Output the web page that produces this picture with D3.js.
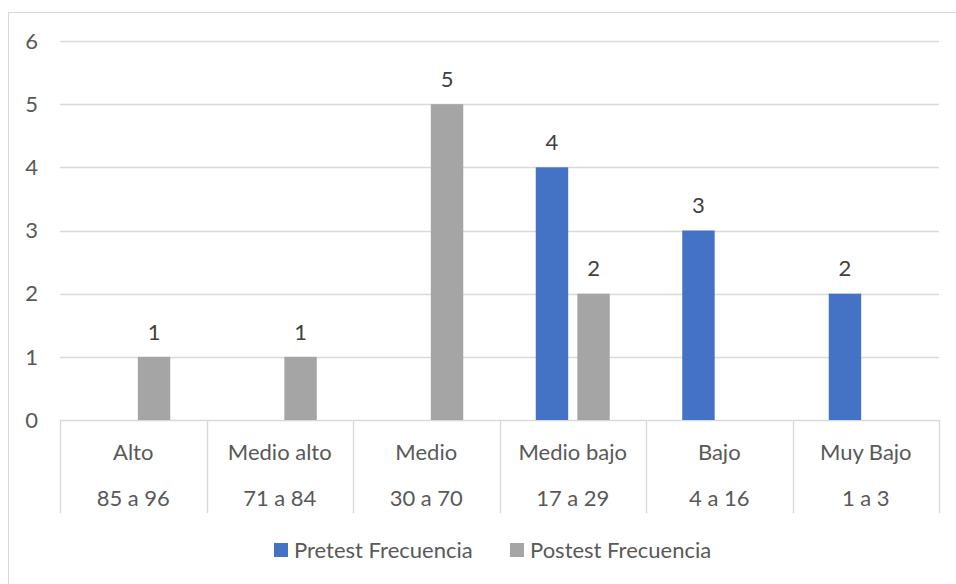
<!DOCTYPE html>
<meta charset="utf-8">
<script src="https://d3js.org/d3.v7.min.js"></script>
<style>
  body { margin: 0; background: #fff; }
  text { font-family: Lato, "Open Sans", sans-serif; fill: #595959; }
</style>
<div id="chart"></div>
<script>
// data
const levels = ["Alto", "Medio alto", "Medio", "Medio bajo", "Bajo", "Muy Bajo"];
const ranges = ["85 a 96", "71 a 84", "30 a 70", "17 a 29", "4 a 16", "1 a 3"];
const seriesNames = ["Pretest Frecuencia", "Postest Frecuencia"];
const pretest = [null, null, null, 4, 3, 2];
const postest = [1, 1, 5, 2, null, null];
const yTicks = [0, 1, 2, 3, 4, 5, 6];

const colors = {"Pretest Frecuencia": "#4472C4", "Postest Frecuencia": "#A5A5A5"};
const fs = "22px";

const W = 956, H = 584;
const svg = d3.select("#chart").append("svg")
  .attr("width", W).attr("height", H);

// outer chart border
svg.append("rect")
  .attr("x", 8.5).attr("y", 12.5)
  .attr("width", 960).attr("height", 600)
  .attr("fill", "none").attr("stroke", "#D9D9D9");

const x = d3.scaleBand().domain(levels).range([60, 939]);
const xs = d3.scaleBand().domain(seriesNames).range([-37, 37]).paddingInner(0.22);
const y = d3.scaleLinear().domain([0, 6]).range([420, 41]);

// gridlines
svg.append("g").selectAll("line")
  .data(yTicks)
  .join("line")
    .attr("x1", 60).attr("x2", 939)
    .attr("y1", d => Math.round(y(d)) + 0.5)
    .attr("y2", d => Math.round(y(d)) + 0.5)
    .attr("stroke", "#D9D9D9").attr("stroke-width", 1.4);

// y labels
svg.append("g").selectAll("text")
  .data(yTicks)
  .join("text")
    .attr("x", 38).attr("y", d => y(d))
    .attr("dy", "0.35em")
    .attr("text-anchor", "end")
    .style("font-size", fs)
    .text(d => d);

// category separators (multi-level axis)
const bounds = levels.map(d => x(d)).concat([x.range()[1]]);
svg.append("g").selectAll("line")
  .data(bounds)
  .join("line")
    .attr("x1", d => Math.round(d) + 0.5).attr("x2", d => Math.round(d) + 0.5)
    .attr("y1", 420).attr("y2", 513)
    .attr("stroke", "#D9D9D9").attr("stroke-width", 1.4);

svg.append("g").selectAll("text")
  .data(levels)
  .join("text")
    .attr("x", d => x(d) + x.bandwidth() / 2)
    .attr("y", 452).attr("dy", "0.35em")
    .attr("text-anchor", "middle")
    .style("font-size", fs)
    .text(d => d);

svg.append("g").selectAll("text")
  .data(ranges)
  .join("text")
    .attr("x", (d, i) => x(levels[i]) + x.bandwidth() / 2)
    .attr("y", 498).attr("dy", "0.35em")
    .attr("text-anchor", "middle")
    .style("font-size", fs)
    .text(d => d);

// bars
const rows = [];
levels.forEach((lv, i) => {
  rows.push({level: lv, series: seriesNames[0], value: pretest[i]});
  rows.push({level: lv, series: seriesNames[1], value: postest[i]});
});
const bars = rows.filter(d => d.value != null);

svg.append("g").selectAll("rect")
  .data(bars)
  .join("rect")
    .attr("x", d => x(d.level) + x.bandwidth() / 2 + xs(d.series))
    .attr("width", xs.bandwidth())
    .attr("y", d => y(d.value))
    .attr("height", d => y(0) - y(d.value))
    .attr("fill", d => colors[d.series]);

svg.append("g").selectAll("text")
  .data(bars)
  .join("text")
    .attr("x", d => x(d.level) + x.bandwidth() / 2 + xs(d.series) + xs.bandwidth() / 2)
    .attr("y", d => y(d.value) - 25)
    .attr("dy", "0.35em")
    .attr("text-anchor", "middle")
    .style("font-size", fs)
    .style("fill", "#404040")
    .text(d => d.value);

// legend
const legendX = [274, 510];
const lg = svg.append("g").selectAll("g")
  .data(seriesNames)
  .join("g")
    .attr("transform", (d, i) => "translate(" + legendX[i] + ",543)");
lg.append("rect")
  .attr("width", 14).attr("height", 14)
  .attr("fill", d => colors[d]);
lg.append("text")
  .attr("x", 20).attr("y", 7).attr("dy", "0.35em")
  .style("font-size", fs)
  .text(d => d);
</script>
